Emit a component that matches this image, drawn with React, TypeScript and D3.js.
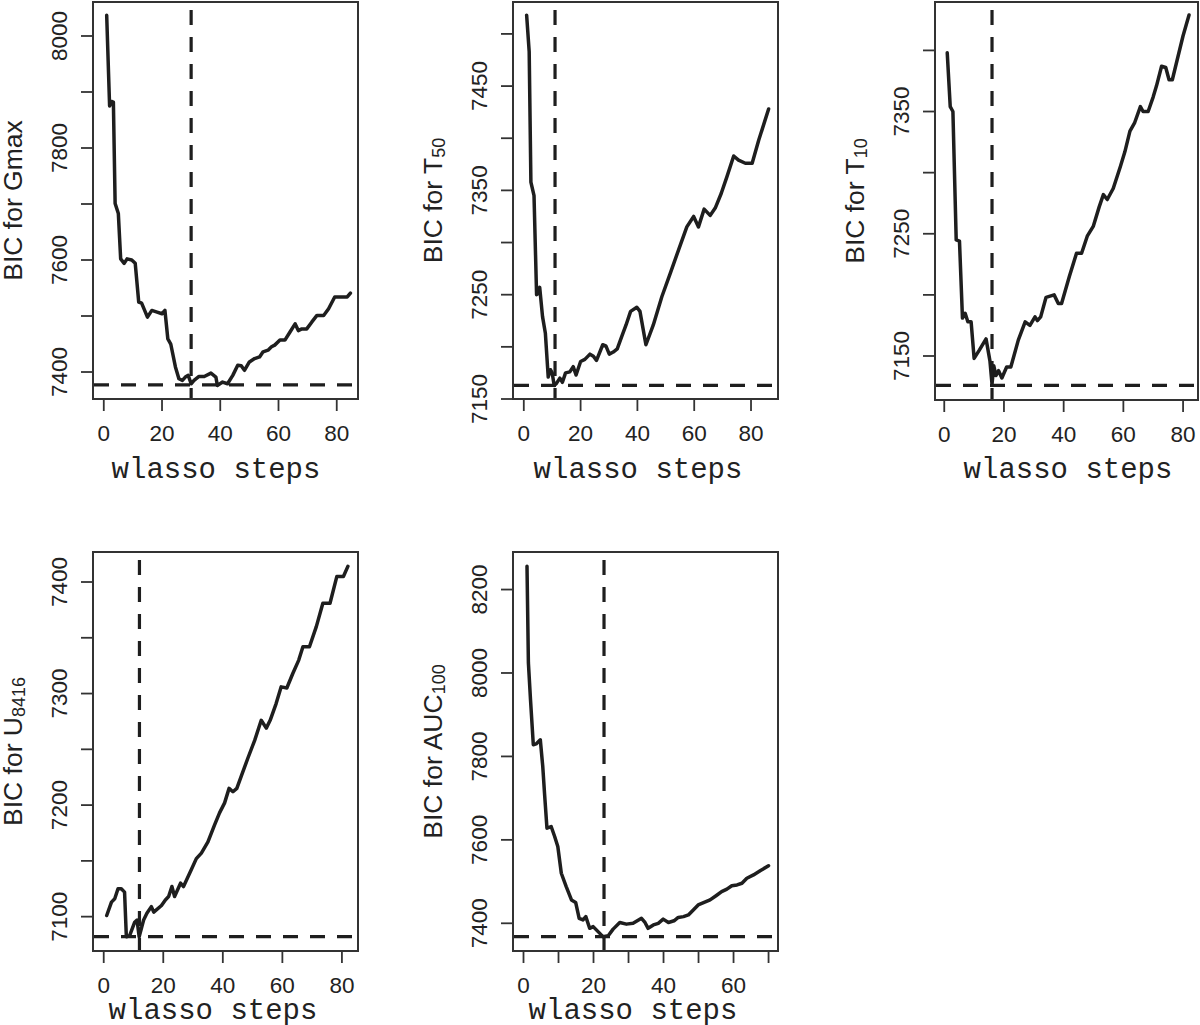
import React from "react";
import * as d3 from "d3";

type Pt = [number, number];

// ---- data: [wlasso step, BIC] ----
const gmaxBIC: Pt[] = [
  [1, 8037], [2, 7875], [2.7, 7883], [3.3, 7882], [3.9, 7701], [5, 7683], [5.8, 7602], [7, 7594], [8, 7602], [9.6, 7600],
  [10.8, 7594], [12, 7525], [13, 7523], [15, 7498], [16.5, 7510], [18.3, 7507], [20, 7504], [21, 7510], [22, 7459], [23, 7450],
  [24.6, 7409], [25.8, 7388], [27, 7385], [28, 7391], [29, 7394], [30, 7379], [31, 7385], [32.7, 7392], [34.5, 7392], [36.8, 7398],
  [38.5, 7391], [39, 7376], [40.8, 7382], [42.5, 7379], [44.3, 7394], [46, 7412], [47.2, 7411], [48.3, 7403], [50, 7418], [51.8, 7424],
  [53.5, 7427], [54.7, 7436], [56.4, 7439], [57.6, 7445], [58.7, 7448], [60.5, 7457], [62.2, 7457], [63.9, 7471], [65.7, 7486], [66.8, 7474],
  [68, 7477], [69.7, 7477], [71.4, 7489], [73.2, 7501], [75.5, 7501], [77.2, 7513], [79.3, 7534], [81.3, 7534], [83.6, 7534], [84.7, 7541],
];

const t50BIC: Pt[] = [
  [1, 7518], [1.9, 7483], [2.5, 7358], [3.6, 7345], [4.5, 7250], [5, 7251], [5.6, 7257], [6.6, 7229], [7.6, 7213], [8.6, 7171],
  [9.4, 7178], [10, 7175], [10.7, 7163], [11.5, 7165], [12.7, 7170], [13.6, 7166], [14.7, 7175], [16.2, 7176], [17.4, 7181], [18.4, 7173],
  [20, 7186], [21.5, 7188], [23.3, 7193], [24.5, 7191], [25.6, 7187], [27.8, 7202], [28.9, 7201], [30.1, 7193], [31.5, 7195], [32.9, 7198],
  [34.5, 7210], [36, 7221], [37.6, 7234], [39.8, 7238], [40.9, 7234], [43, 7202], [45.6, 7221], [48.6, 7248], [51.5, 7270], [54.5, 7293],
  [57.4, 7315], [59.8, 7325], [61.5, 7315], [63.5, 7332], [65.6, 7326], [67.4, 7333], [69.5, 7347], [71.5, 7363], [73.9, 7383], [75.6, 7379],
  [78, 7376], [80.4, 7376], [82.7, 7398], [86.2, 7428],
];

const t10BIC: Pt[] = [
  [1, 7398], [2, 7354], [2.9, 7350], [4, 7245], [5.1, 7244], [6.1, 7181], [7, 7185], [7.9, 7178], [9, 7178], [10, 7148],
  [11.8, 7155], [14, 7164], [15.3, 7146], [16, 7127], [16.6, 7142], [17.3, 7134], [18.2, 7138], [19.3, 7132], [20.9, 7141], [22.3, 7141],
  [24.8, 7163], [27.1, 7178], [28.7, 7175], [30.4, 7182], [31.2, 7179], [32.3, 7182], [34.1, 7198], [36.8, 7200], [38.2, 7193], [39.3, 7193],
  [41.9, 7215], [44.3, 7234], [46, 7234], [47.9, 7248], [49.9, 7256], [51.9, 7272], [53.3, 7282], [54.6, 7278], [56.6, 7287], [59, 7305],
  [60.5, 7317], [62.2, 7334], [63.8, 7341], [65.7, 7354], [66.6, 7350], [68.3, 7350], [70, 7362], [71.1, 7371], [72.8, 7387], [74.2, 7386],
  [75.3, 7376], [76.4, 7376], [78.3, 7395], [80, 7412], [82, 7429],
];

const u8416BIC: Pt[] = [
  [1, 7101], [2.6, 7113], [3.7, 7116], [4.8, 7125], [5.9, 7125], [7, 7122], [7.6, 7082], [8.7, 7083], [10.4, 7095], [11.2, 7097],
  [11.9, 7082], [13.4, 7097], [14.5, 7103], [16, 7109], [16.8, 7104], [19.4, 7110], [20.7, 7115], [21.8, 7118], [22.9, 7127], [23.8, 7118],
  [25.8, 7130], [26.8, 7127], [29.4, 7142], [31.1, 7152], [32.8, 7157], [35, 7167], [37.2, 7182], [38.9, 7193], [40.6, 7202], [42.1, 7215],
  [43.4, 7212], [44.7, 7215], [46.2, 7226], [48.4, 7242], [50.7, 7258], [52.9, 7276], [54.6, 7269], [55.9, 7276], [57.9, 7291], [59.6, 7306],
  [61.5, 7305], [63.5, 7318], [65.5, 7330], [66.9, 7342], [69.1, 7342], [71.4, 7360], [73.6, 7381], [76, 7381], [78.3, 7405], [80.5, 7405],
  [82, 7414],
];

const auc100BIC: Pt[] = [
  [1, 8256], [1.4, 8024], [2, 7936], [2.8, 7828], [3.6, 7830], [4.8, 7840], [5.5, 7776], [6, 7712], [6.7, 7628], [7.9, 7632],
  [8.9, 7608], [9.8, 7584], [10.8, 7520], [12.2, 7488], [13.7, 7456], [14.9, 7450], [15.9, 7412], [17, 7408], [17.8, 7416], [18.9, 7388],
  [19.9, 7392], [21.3, 7380], [22.7, 7368], [24.2, 7370], [25.6, 7386], [27.5, 7402], [29.4, 7398], [31.3, 7400], [32.5, 7406], [33.7, 7412],
  [34.7, 7402], [35.6, 7388], [37.1, 7396], [38.5, 7400], [39.9, 7410], [41.4, 7402], [43, 7406], [44.2, 7414], [45.7, 7416], [47.1, 7420],
  [48.5, 7432], [49.9, 7444], [51.6, 7450], [53.3, 7456], [55, 7466], [56.6, 7476], [58.1, 7482], [59.5, 7490], [61, 7492], [62.4, 7496],
  [63.8, 7508], [65.7, 7516], [67.6, 7526], [70, 7538],
];

// selected step (vertical) and minimum BIC (horizontal)
const selectedSteps = [30, 11, 16, 12, 23];
const minBIC = [7377, 7163, 7126, 7082, 7368];

// axis ticks and labels
const yTicks = [
  [7400, 7500, 7600, 7700, 7800, 7900, 8000],
  [7150, 7200, 7250, 7300, 7350, 7400, 7450, 7500],
  [7150, 7200, 7250, 7300, 7350, 7400],
  [7100, 7150, 7200, 7250, 7300, 7350, 7400],
  [7400, 7600, 7800, 8000, 8200],
];
const yLabels = [
  [7400, 7600, 7800, 8000],
  [7150, 7250, 7350, 7450],
  [7150, 7250, 7350],
  [7100, 7200, 7300, 7400],
  [7400, 7600, 7800, 8000, 8200],
];
const xTicks = [
  [0, 20, 40, 60, 80],
  [0, 20, 40, 60, 80],
  [0, 20, 40, 60, 80],
  [0, 20, 40, 60, 80],
  [0, 10, 20, 30, 40, 50, 60, 70],
];
const xLabels = [
  [0, 20, 40, 60, 80],
  [0, 20, 40, 60, 80],
  [0, 20, 40, 60, 80],
  [0, 20, 40, 60, 80],
  [0, 20, 40, 60],
];
const titleMain = ["Gmax", "T", "T", "U", "AUC"];
const titleSub = ["", "50", "10", "8416", "100"];
const xTitle = "wlasso steps";

const series = [gmaxBIC, t50BIC, t10BIC, u8416BIC, auc100BIC];

// ---- layout ----
const layout = [
  { x0: 93, x1: 358, y0: 2, y1: 399, xd: [-3.7, 87.3], yd: [7351.8, 8060.7], tdx: -9.5, ty: 478 },
  { x0: 513, x1: 778, y0: 2, y1: 399, xd: [-3.8, 89.5], yd: [7150, 7530.6], tdx: -7.5, ty: 478 },
  { x0: 935, x1: 1198, y0: 2, y1: 400, xd: [-3.1, 85.0], yd: [7114, 7439.6], tdx: 1.5, ty: 478 },
  { x0: 93, x1: 358, y0: 552, y1: 951, xd: [-3.6, 85.4], yd: [7069.2, 7426.9], tdx: -12.5, ty: 1019 },
  { x0: 513, x1: 778, y0: 552, y1: 951, xd: [-3.0, 72.7], yd: [7333.6, 8290], tdx: -12.5, ty: 1019 },
];

const SANS = "'Liberation Sans', Arial, Helvetica, sans-serif";
const MONO = "'Liberation Mono', 'Courier New', monospace";
const INK = "#1e1e1e";

function Panel({ i }: { i: number }) {
  const L = layout[i];
  const x = d3.scaleLinear().domain(L.xd).range([L.x0, L.x1]);
  const y = d3.scaleLinear().domain(L.yd).range([L.y1, L.y0]);
  const line = d3
    .line<Pt>()
    .x((d) => x(d[0]))
    .y((d) => y(d[1]));
  const cy = (L.y0 + L.y1) / 2;
  const cx = (L.x0 + L.x1) / 2;
  const clipId = `clip-${i}`;
  return (
    <g>
      <defs>
        <clipPath id={clipId}>
          <rect x={L.x0} y={L.y0} width={L.x1 - L.x0} height={L.y1 - L.y0} />
        </clipPath>
      </defs>
      {/* y ticks */}
      {yTicks[i].map((t) => (
        <line key={`yt${t}`} x1={L.x0 - 12} x2={L.x0} y1={y(t)} y2={y(t)} stroke="#333" strokeWidth={1.8} />
      ))}
      {yLabels[i].map((t) => (
        <text
          key={`yl${t}`}
          transform={`translate(${L.x0 - 26},${y(t)}) rotate(-90)`}
          textAnchor="middle"
          fontFamily={SANS}
          fontSize={22.5}
          fill="#222"
        >
          {t}
        </text>
      ))}
      {/* x ticks */}
      {xTicks[i].map((t) => (
        <line key={`xt${t}`} x1={x(t)} x2={x(t)} y1={L.y1} y2={L.y1 + 12} stroke="#333" strokeWidth={1.8} />
      ))}
      {xLabels[i].map((t) => (
        <text key={`xl${t}`} x={x(t)} y={L.y1 + 42} textAnchor="middle" fontFamily={SANS} fontSize={22.5} fill="#222">
          {t}
        </text>
      ))}
      {/* curve */}
      <g clipPath={`url(#${clipId})`}>
        <path d={line(series[i]) || ""} fill="none" stroke={INK} strokeWidth={3.5} strokeLinejoin="round" strokeLinecap="round" />
        <line
          x1={x(selectedSteps[i])}
          x2={x(selectedSteps[i])}
          y1={L.y0}
          y2={L.y1}
          stroke={INK}
          strokeWidth={3.2}
          strokeDasharray="15 12"
          strokeDashoffset={-8}
        />
        <line
          x1={L.x0}
          x2={L.x1}
          y1={y(minBIC[i])}
          y2={y(minBIC[i])}
          stroke={INK}
          strokeWidth={3.2}
          strokeDasharray="15 12"
          strokeDashoffset={-1}
        />
      </g>
      {/* box */}
      <rect x={L.x0} y={L.y0} width={L.x1 - L.x0} height={L.y1 - L.y0} fill="none" stroke="#333" strokeWidth={2} />
      {/* y title */}
      <text
        transform={`translate(${L.x0 - 71},${cy}) rotate(-90)`}
        textAnchor="middle"
        fontFamily={SANS}
        fontSize={26.5}
        fill="#222"
      >
        {"BIC for " + titleMain[i]}
        {titleSub[i] ? (
          <tspan fontSize={18} dy={3}>
            {titleSub[i]}
          </tspan>
        ) : null}
      </text>
      {/* x title */}
      <text x={cx + L.tdx} y={L.ty} textAnchor="middle" fontFamily={MONO} fontSize={29} fill="#222">
        {xTitle}
      </text>
    </g>
  );
}

export default function App() {
  return (
    <svg
      width={1200}
      height={1025}
      viewBox="0 0 1200 1025"
      style={{ position: "absolute", left: 0, top: 0, background: "#fff" }}
    >
      <rect x={0} y={0} width={1200} height={1025} fill="#fff" />
      {series.map((_, i) => (
        <Panel key={i} i={i} />
      ))}
    </svg>
  );
}
